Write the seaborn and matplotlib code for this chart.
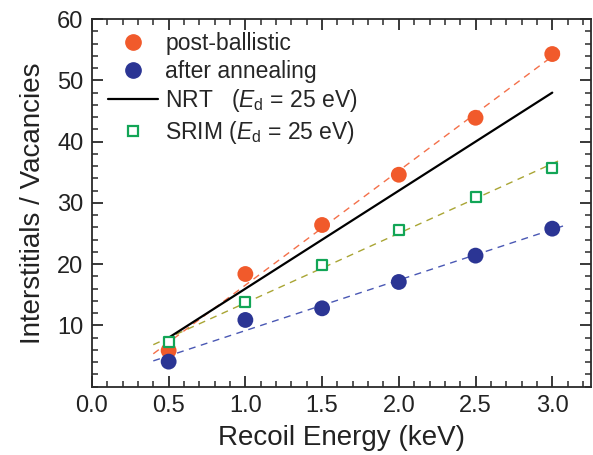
import numpy as np
import pandas as pd
import matplotlib
matplotlib.use("Agg")
import matplotlib.pyplot as plt
from matplotlib.ticker import MultipleLocator
from matplotlib.lines import Line2D
import seaborn as sns

# ---- data ----
energy = [0.5, 1.0, 1.5, 2.0, 2.5, 3.0]
post_ballistic = [5.9, 18.4, 26.4, 34.6, 43.9, 54.3]
after_annealing = [4.1, 10.9, 12.8, 17.1, 21.4, 25.8]
srim = [7.3, 13.9, 19.8, 25.6, 30.9, 35.7]
nrt = [8.0, 16.0, 24.0, 32.0, 40.0, 48.0]
fit_range = [0.4, 3.07]
x_ticks = [0.0, 0.5, 1.0, 1.5, 2.0, 2.5, 3.0]
y_ticks = [10, 20, 30, 40, 50, 60]

sns.set_theme(style="ticks")
plt.rcParams['font.family'] = ['Liberation Sans', 'DejaVu Sans']
plt.rcParams['mathtext.fontset'] = 'custom'
plt.rcParams['mathtext.rm'] = 'Liberation Sans'
plt.rcParams['mathtext.it'] = 'Liberation Sans:italic'

fig = plt.figure(figsize=(5.93, 4.55), dpi=100)
ax = fig.add_axes([0.155, 0.150, 0.841, 0.808])

c_red = "#F15A2B"
c_blue = "#2B3594"
c_green = "#12A556"
c_red_fit = "#F4704A"
c_blue_fit = "#4A58B4"
c_olive_fit = "#A9A534"

# linear fits from the data
xf = np.array(fit_range)
for ys, col in [(post_ballistic, c_red_fit), (after_annealing, c_blue_fit), (srim, c_olive_fit)]:
    p = np.polyfit(energy, ys, 1)
    sns.lineplot(x=xf, y=np.polyval(p, xf), ax=ax, color=col, lw=1.0,
                 linestyle=(0, (5, 4)), legend=False)

sns.lineplot(x=energy, y=nrt, ax=ax, color="black", lw=1.6, legend=False)

sns.scatterplot(x=energy, y=post_ballistic, ax=ax, color=c_red, s=130,
                edgecolor="none", legend=False, zorder=5)
sns.scatterplot(x=energy, y=after_annealing, ax=ax, color=c_blue, s=130,
                edgecolor="none", legend=False, zorder=5)
sns.scatterplot(x=energy, y=srim, ax=ax, marker="s", s=60, facecolor="white",
                edgecolor=c_green, linewidth=1.6, legend=False, zorder=6)

ax.set_xlim(0, 3.25)
ax.set_ylim(0, 60)
ax.set_xticks(x_ticks)
ax.set_xticklabels([f"{v:.1f}" for v in x_ticks])
ax.set_yticks(y_ticks)
ax.set_yticklabels([str(v) for v in y_ticks])
ax.xaxis.set_minor_locator(MultipleLocator(0.1))
ax.yaxis.set_minor_locator(MultipleLocator(2))
ax.tick_params(which="both", direction="in", top=True, right=True,
               bottom=True, left=True, color="#2a2a2a")
ax.tick_params(which="major", length=8, width=1.3, labelsize=17, pad=6,
               labelcolor="#222222")
ax.tick_params(which="minor", length=4, width=1.1)
for s in ax.spines.values():
    s.set_linewidth(1.3)
    s.set_color("#2a2a2a")

ax.set_xlabel("Recoil Energy (keV)", fontsize=20, color="#222222", labelpad=6)
ax.set_ylabel("Interstitials / Vacancies", fontsize=20, color="#222222", labelpad=8)

handles = [
    Line2D([], [], marker="o", color=c_red, ls="none", markersize=11),
    Line2D([], [], marker="o", color=c_blue, ls="none", markersize=11),
    Line2D([], [], color="black", lw=1.6),
    Line2D([], [], marker="s", markerfacecolor="white", markeredgecolor=c_green,
           markeredgewidth=1.6, ls="none", markersize=7.5),
]
labels = ["post-ballistic", "after annealing",
          r"NRT   ($E_{\rm d}$ = 25 eV)", r"SRIM ($E_{\rm d}$ = 25 eV)"]
ax.legend(handles, labels, loc="upper left", frameon=False, fontsize=16.5,
          labelspacing=0.2, handlelength=2.2, handletextpad=0.3,
          borderaxespad=0.0, bbox_to_anchor=(0.014, 0.99))

fig.savefig("out.png", dpi=100)
